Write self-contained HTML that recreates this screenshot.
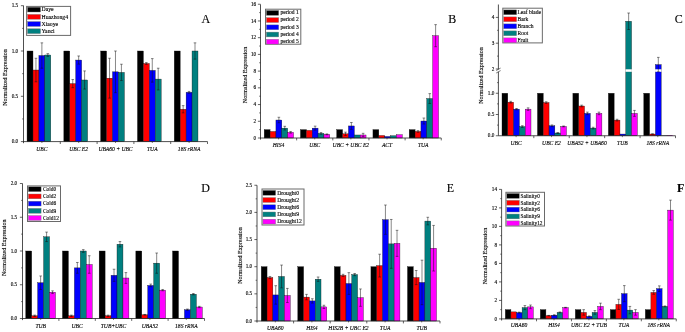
<!DOCTYPE html>
<html><head><meta charset="utf-8"><style>
html,body{margin:0;padding:0;background:#fff;}
body{width:685px;height:332px;overflow:hidden;}
svg{display:block;will-change:transform;filter:blur(0.3px);}
text{font-family:"Liberation Serif",serif;fill:#000;stroke:#000;stroke-width:0.12px;}
.tl{font-size:5.2px;}
.xl{font-size:5.6px;font-style:italic;}
.yl{font-size:6px;}
.lg{font-size:6px;}
.pl{font-size:12px;}
</style></head><body>
<svg width="685" height="332" viewBox="0 0 685 332">
<rect width="685" height="332" fill="#fff"/>
<rect x="27.05" y="51" width="5.93" height="90.6" fill="#000000" stroke="#111" stroke-width="0.35"/>
<rect x="32.98" y="70.03" width="5.93" height="71.57" fill="#ff0000" stroke="#111" stroke-width="0.35"/>
<rect x="38.91" y="55.53" width="5.93" height="86.07" fill="#0000ff" stroke="#111" stroke-width="0.35"/>
<rect x="44.84" y="54.99" width="5.93" height="86.61" fill="#008080" stroke="#111" stroke-width="0.35"/>
<rect x="63.85" y="51" width="5.93" height="90.6" fill="#000000" stroke="#111" stroke-width="0.35"/>
<rect x="69.78" y="83.62" width="5.93" height="57.98" fill="#ff0000" stroke="#111" stroke-width="0.35"/>
<rect x="75.71" y="60.06" width="5.93" height="81.54" fill="#0000ff" stroke="#111" stroke-width="0.35"/>
<rect x="81.64" y="79.99" width="5.93" height="61.61" fill="#008080" stroke="#111" stroke-width="0.35"/>
<rect x="100.65" y="51" width="5.93" height="90.6" fill="#000000" stroke="#111" stroke-width="0.35"/>
<rect x="106.58" y="78.18" width="5.93" height="63.42" fill="#ff0000" stroke="#111" stroke-width="0.35"/>
<rect x="112.51" y="71.84" width="5.93" height="69.76" fill="#0000ff" stroke="#111" stroke-width="0.35"/>
<rect x="118.44" y="72.38" width="5.93" height="69.22" fill="#008080" stroke="#111" stroke-width="0.35"/>
<rect x="137.45" y="51" width="5.93" height="90.6" fill="#000000" stroke="#111" stroke-width="0.35"/>
<rect x="143.38" y="63.5" width="5.93" height="78.1" fill="#ff0000" stroke="#111" stroke-width="0.35"/>
<rect x="149.31" y="70.39" width="5.93" height="71.21" fill="#0000ff" stroke="#111" stroke-width="0.35"/>
<rect x="155.24" y="79.09" width="5.93" height="62.51" fill="#008080" stroke="#111" stroke-width="0.35"/>
<rect x="174.25" y="51" width="5.93" height="90.6" fill="#000000" stroke="#111" stroke-width="0.35"/>
<rect x="180.18" y="109.26" width="5.93" height="32.34" fill="#ff0000" stroke="#111" stroke-width="0.35"/>
<rect x="186.11" y="92.31" width="5.93" height="49.29" fill="#0000ff" stroke="#111" stroke-width="0.35"/>
<rect x="192.04" y="51" width="5.93" height="90.6" fill="#008080" stroke="#111" stroke-width="0.35"/>
<path d="M35.95 58.25V81.8M34.65 58.25H37.25M34.65 81.8H37.25" stroke="#111" stroke-width="0.5" fill="none"/>
<path d="M41.88 42.85V68.21M40.58 42.85H43.17M40.58 68.21H43.17" stroke="#111" stroke-width="0.5" fill="none"/>
<path d="M47.81 53.63V56.35M46.51 53.63H49.11M46.51 56.35H49.11" stroke="#111" stroke-width="0.5" fill="none"/>
<path d="M72.75 79.54V87.69M71.45 79.54H74.05M71.45 87.69H74.05" stroke="#111" stroke-width="0.5" fill="none"/>
<path d="M78.67 55.98V64.14M77.38 55.98H79.97M77.38 64.14H79.97" stroke="#111" stroke-width="0.5" fill="none"/>
<path d="M84.6 70.93V89.05M83.3 70.93H85.9M83.3 89.05H85.9" stroke="#111" stroke-width="0.5" fill="none"/>
<path d="M109.54 58.25V98.11M108.24 58.25H110.84M108.24 98.11H110.84" stroke="#111" stroke-width="0.5" fill="none"/>
<path d="M115.47 51V92.68M114.17 51H116.77M114.17 92.68H116.77" stroke="#111" stroke-width="0.5" fill="none"/>
<path d="M121.41 64.23V80.54M120.11 64.23H122.7M120.11 80.54H122.7" stroke="#111" stroke-width="0.5" fill="none"/>
<path d="M146.34 62.6V64.41M145.04 62.6H147.65M145.04 64.41H147.65" stroke="#111" stroke-width="0.5" fill="none"/>
<path d="M152.28 58.61V82.17M150.97 58.61H153.58M150.97 82.17H153.58" stroke="#111" stroke-width="0.5" fill="none"/>
<path d="M158.2 68.21V89.96M156.9 68.21H159.5M156.9 89.96H159.5" stroke="#111" stroke-width="0.5" fill="none"/>
<path d="M183.15 105.63V112.88M181.84 105.63H184.45M181.84 112.88H184.45" stroke="#111" stroke-width="0.5" fill="none"/>
<path d="M189.08 91.41V93.22M187.78 91.41H190.38M187.78 93.22H190.38" stroke="#111" stroke-width="0.5" fill="none"/>
<path d="M195 42.85V59.15M193.7 42.85H196.31M193.7 59.15H196.31" stroke="#111" stroke-width="0.5" fill="none"/>
<path d="M23.5 5.6V143.2M23.1 141.6H207.5" stroke="#222" stroke-width="0.8" fill="none"/>
<path d="M20.9 141.6H23.5" stroke="#222" stroke-width="0.7"/>
<text x="18.2" y="143.2" class="tl" text-anchor="end">0.0</text>
<path d="M20.9 96.3H23.5" stroke="#222" stroke-width="0.7"/>
<text x="18.2" y="97.9" class="tl" text-anchor="end">0.5</text>
<path d="M20.9 51H23.5" stroke="#222" stroke-width="0.7"/>
<text x="18.2" y="52.6" class="tl" text-anchor="end">1.0</text>
<path d="M20.9 5.7H23.5" stroke="#222" stroke-width="0.7"/>
<text x="18.2" y="7.3" class="tl" text-anchor="end">1.5</text>
<path d="M22.1 118.95H23.5" stroke="#222" stroke-width="0.6"/>
<path d="M22.1 73.65H23.5" stroke="#222" stroke-width="0.6"/>
<path d="M22.1 28.35H23.5" stroke="#222" stroke-width="0.6"/>
<path d="M60.3 141.6V144" stroke="#222" stroke-width="0.7"/>
<path d="M97.1 141.6V144" stroke="#222" stroke-width="0.7"/>
<path d="M133.9 141.6V144" stroke="#222" stroke-width="0.7"/>
<path d="M170.7 141.6V144" stroke="#222" stroke-width="0.7"/>
<path d="M207.5 141.6V144" stroke="#222" stroke-width="0.7"/>
<path d="M41.9 141.6V143" stroke="#222" stroke-width="0.6"/>
<text x="41.9" y="150.6" class="xl" text-anchor="middle">UBC</text>
<path d="M78.7 141.6V143" stroke="#222" stroke-width="0.6"/>
<text x="78.7" y="150.6" class="xl" text-anchor="middle">UBC E2</text>
<path d="M115.5 141.6V143" stroke="#222" stroke-width="0.6"/>
<text x="115.5" y="150.6" class="xl" text-anchor="middle">UBA60 + UBC</text>
<path d="M152.3 141.6V143" stroke="#222" stroke-width="0.6"/>
<text x="152.3" y="150.6" class="xl" text-anchor="middle">TUA</text>
<path d="M189.1 141.6V143" stroke="#222" stroke-width="0.6"/>
<text x="189.1" y="150.6" class="xl" text-anchor="middle">18S rRNA</text>
<text class="yl" text-anchor="middle" transform="translate(7.4 77.5) rotate(-90)">Normalized Expression</text>
<rect x="26.6" y="6.4" width="44" height="29" fill="#fff" stroke="#6a6a6a" stroke-width="1"/>
<rect x="27.5" y="7.2" width="13" height="4.8" fill="#000000" stroke="#777" stroke-width="0.4"/>
<text x="41.5" y="11.4" class="lg" style="font-size:5.75px">Daye</text>
<rect x="27.5" y="14.4" width="13" height="4.8" fill="#ff0000" stroke="#777" stroke-width="0.4"/>
<text x="41.5" y="18.6" class="lg" style="font-size:5.75px">Huazhong4</text>
<rect x="27.5" y="21.6" width="13" height="4.8" fill="#0000ff" stroke="#777" stroke-width="0.4"/>
<text x="41.5" y="25.8" class="lg" style="font-size:5.75px">Xiaoye</text>
<rect x="27.5" y="28.8" width="13" height="4.8" fill="#008080" stroke="#777" stroke-width="0.4"/>
<text x="41.5" y="33" class="lg" style="font-size:5.75px">Yanci</text>
<text x="201.6" y="22.7" class="pl">A</text>
<rect x="264.2" y="129.64" width="5.87" height="8.36" fill="#000000" stroke="#111" stroke-width="0.35"/>
<rect x="270.07" y="131.48" width="5.87" height="6.52" fill="#ff0000" stroke="#111" stroke-width="0.35"/>
<rect x="275.94" y="120.03" width="5.87" height="17.97" fill="#0000ff" stroke="#111" stroke-width="0.35"/>
<rect x="281.81" y="128.14" width="5.87" height="9.86" fill="#008080" stroke="#111" stroke-width="0.35"/>
<rect x="287.68" y="132.32" width="5.87" height="5.68" fill="#ff00ff" stroke="#111" stroke-width="0.35"/>
<rect x="300.45" y="129.64" width="5.87" height="8.36" fill="#000000" stroke="#111" stroke-width="0.35"/>
<rect x="306.32" y="130.39" width="5.87" height="7.61" fill="#ff0000" stroke="#111" stroke-width="0.35"/>
<rect x="312.19" y="128.14" width="5.87" height="9.86" fill="#0000ff" stroke="#111" stroke-width="0.35"/>
<rect x="318.06" y="133.4" width="5.87" height="4.6" fill="#008080" stroke="#111" stroke-width="0.35"/>
<rect x="323.93" y="134.32" width="5.87" height="3.68" fill="#ff00ff" stroke="#111" stroke-width="0.35"/>
<rect x="336.7" y="129.64" width="5.87" height="8.36" fill="#000000" stroke="#111" stroke-width="0.35"/>
<rect x="342.57" y="133.82" width="5.87" height="4.18" fill="#ff0000" stroke="#111" stroke-width="0.35"/>
<rect x="348.44" y="125.96" width="5.87" height="12.04" fill="#0000ff" stroke="#111" stroke-width="0.35"/>
<rect x="354.31" y="134.99" width="5.87" height="3.01" fill="#008080" stroke="#111" stroke-width="0.35"/>
<rect x="360.18" y="134.99" width="5.87" height="3.01" fill="#ff00ff" stroke="#111" stroke-width="0.35"/>
<rect x="372.95" y="129.64" width="5.87" height="8.36" fill="#000000" stroke="#111" stroke-width="0.35"/>
<rect x="378.82" y="135.49" width="5.87" height="2.51" fill="#ff0000" stroke="#111" stroke-width="0.35"/>
<rect x="384.69" y="136.5" width="5.87" height="1.5" fill="#0000ff" stroke="#111" stroke-width="0.35"/>
<rect x="390.56" y="135.74" width="5.87" height="2.26" fill="#008080" stroke="#111" stroke-width="0.35"/>
<rect x="396.43" y="134.74" width="5.87" height="3.26" fill="#ff00ff" stroke="#111" stroke-width="0.35"/>
<rect x="409.2" y="129.64" width="5.87" height="8.36" fill="#000000" stroke="#111" stroke-width="0.35"/>
<rect x="415.07" y="131.48" width="5.87" height="6.52" fill="#ff0000" stroke="#111" stroke-width="0.35"/>
<rect x="420.94" y="121.03" width="5.87" height="16.97" fill="#0000ff" stroke="#111" stroke-width="0.35"/>
<rect x="426.81" y="98.54" width="5.87" height="39.46" fill="#008080" stroke="#111" stroke-width="0.35"/>
<rect x="432.68" y="35.67" width="5.87" height="102.33" fill="#ff00ff" stroke="#111" stroke-width="0.35"/>
<path d="M278.88 117.27V122.78M277.57 117.27H280.18M277.57 122.78H280.18" stroke="#111" stroke-width="0.5" fill="none"/>
<path d="M284.75 126.3V129.97M283.44 126.3H286.05M283.44 129.97H286.05" stroke="#111" stroke-width="0.5" fill="none"/>
<path d="M290.62 131.48V133.15M289.31 131.48H291.92M289.31 133.15H291.92" stroke="#111" stroke-width="0.5" fill="none"/>
<path d="M315.12 126.13V130.14M313.82 126.13H316.43M313.82 130.14H316.43" stroke="#111" stroke-width="0.5" fill="none"/>
<path d="M321 132.57V134.24M319.69 132.57H322.3M319.69 134.24H322.3" stroke="#111" stroke-width="0.5" fill="none"/>
<path d="M326.87 133.9V134.74M325.56 133.9H328.17M325.56 134.74H328.17" stroke="#111" stroke-width="0.5" fill="none"/>
<path d="M345.5 132.15V135.49M344.2 132.15H346.81M344.2 135.49H346.81" stroke="#111" stroke-width="0.5" fill="none"/>
<path d="M351.38 122.53V129.39M350.07 122.53H352.68M350.07 129.39H352.68" stroke="#111" stroke-width="0.5" fill="none"/>
<path d="M363.12 133.32V136.66M361.81 133.32H364.42M361.81 136.66H364.42" stroke="#111" stroke-width="0.5" fill="none"/>
<path d="M418 130.64V132.32M416.7 130.64H419.31M416.7 132.32H419.31" stroke="#111" stroke-width="0.5" fill="none"/>
<path d="M423.88 118.02V124.04M422.57 118.02H425.18M422.57 124.04H425.18" stroke="#111" stroke-width="0.5" fill="none"/>
<path d="M429.75 93.61V103.47M428.44 93.61H431.05M428.44 103.47H431.05" stroke="#111" stroke-width="0.5" fill="none"/>
<path d="M435.62 24.64V46.71M434.31 24.64H436.92M434.31 46.71H436.92" stroke="#111" stroke-width="0.5" fill="none"/>
<path d="M260.5 4.4V139.6M260.1 138H441.25" stroke="#222" stroke-width="0.8" fill="none"/>
<path d="M257.9 138H260.5" stroke="#222" stroke-width="0.7"/>
<text x="256.2" y="139.6" class="tl" text-anchor="end">0</text>
<path d="M257.9 121.28H260.5" stroke="#222" stroke-width="0.7"/>
<text x="256.2" y="122.88" class="tl" text-anchor="end">2</text>
<path d="M257.9 104.56H260.5" stroke="#222" stroke-width="0.7"/>
<text x="256.2" y="106.16" class="tl" text-anchor="end">4</text>
<path d="M257.9 87.84H260.5" stroke="#222" stroke-width="0.7"/>
<text x="256.2" y="89.44" class="tl" text-anchor="end">6</text>
<path d="M257.9 71.12H260.5" stroke="#222" stroke-width="0.7"/>
<text x="256.2" y="72.72" class="tl" text-anchor="end">8</text>
<path d="M257.9 54.4H260.5" stroke="#222" stroke-width="0.7"/>
<text x="256.2" y="56" class="tl" text-anchor="end">10</text>
<path d="M257.9 37.68H260.5" stroke="#222" stroke-width="0.7"/>
<text x="256.2" y="39.28" class="tl" text-anchor="end">12</text>
<path d="M257.9 20.96H260.5" stroke="#222" stroke-width="0.7"/>
<text x="256.2" y="22.56" class="tl" text-anchor="end">14</text>
<path d="M257.9 4.24H260.5" stroke="#222" stroke-width="0.7"/>
<text x="256.2" y="5.84" class="tl" text-anchor="end">16</text>
<path d="M259.1 129.64H260.5" stroke="#222" stroke-width="0.6"/>
<path d="M259.1 112.92H260.5" stroke="#222" stroke-width="0.6"/>
<path d="M259.1 96.2H260.5" stroke="#222" stroke-width="0.6"/>
<path d="M259.1 79.48H260.5" stroke="#222" stroke-width="0.6"/>
<path d="M259.1 62.76H260.5" stroke="#222" stroke-width="0.6"/>
<path d="M259.1 46.04H260.5" stroke="#222" stroke-width="0.6"/>
<path d="M259.1 29.32H260.5" stroke="#222" stroke-width="0.6"/>
<path d="M259.1 12.6H260.5" stroke="#222" stroke-width="0.6"/>
<path d="M296.65 138V140.4" stroke="#222" stroke-width="0.7"/>
<path d="M332.8 138V140.4" stroke="#222" stroke-width="0.7"/>
<path d="M368.95 138V140.4" stroke="#222" stroke-width="0.7"/>
<path d="M405.1 138V140.4" stroke="#222" stroke-width="0.7"/>
<path d="M441.25 138V140.4" stroke="#222" stroke-width="0.7"/>
<path d="M278.57 138V139.4" stroke="#222" stroke-width="0.6"/>
<text x="278.57" y="146.8" class="xl" text-anchor="middle">HIS4</text>
<path d="M314.73 138V139.4" stroke="#222" stroke-width="0.6"/>
<text x="314.73" y="146.8" class="xl" text-anchor="middle">UBC</text>
<path d="M350.88 138V139.4" stroke="#222" stroke-width="0.6"/>
<text x="350.88" y="146.8" class="xl" text-anchor="middle">UBC + UBC E2</text>
<path d="M387.02 138V139.4" stroke="#222" stroke-width="0.6"/>
<text x="387.02" y="146.8" class="xl" text-anchor="middle">ACT</text>
<path d="M423.17 138V139.4" stroke="#222" stroke-width="0.6"/>
<text x="423.17" y="146.8" class="xl" text-anchor="middle">TUA</text>
<text class="yl" text-anchor="middle" transform="translate(246.6 74.9) rotate(-90)">Normalized Expression</text>
<rect x="265.5" y="9.2" width="35.3" height="35" fill="#fff" stroke="#6a6a6a" stroke-width="1"/>
<rect x="266.4" y="10.5" width="12.3" height="4.8" fill="#000000" stroke="#777" stroke-width="0.4"/>
<text x="280.5" y="14.1" class="lg" style="font-size:5.5px">period 1</text>
<rect x="266.4" y="17.7" width="12.3" height="4.8" fill="#ff0000" stroke="#777" stroke-width="0.4"/>
<text x="280.5" y="21.3" class="lg" style="font-size:5.5px">period 2</text>
<rect x="266.4" y="24.9" width="12.3" height="4.8" fill="#0000ff" stroke="#777" stroke-width="0.4"/>
<text x="280.5" y="28.5" class="lg" style="font-size:5.5px">period 3</text>
<rect x="266.4" y="32.1" width="12.3" height="4.8" fill="#008080" stroke="#777" stroke-width="0.4"/>
<text x="280.5" y="35.7" class="lg" style="font-size:5.5px">period 4</text>
<rect x="266.4" y="39.3" width="12.3" height="4.8" fill="#ff00ff" stroke="#777" stroke-width="0.4"/>
<text x="280.5" y="42.9" class="lg" style="font-size:5.5px">period 5</text>
<text x="448.3" y="22.7" class="pl">B</text>
<rect x="502" y="93.25" width="5.8" height="42.5" fill="#000000" stroke="#111" stroke-width="0.35"/>
<rect x="507.8" y="102.17" width="5.8" height="33.58" fill="#ff0000" stroke="#111" stroke-width="0.35"/>
<rect x="513.6" y="109.14" width="5.8" height="26.61" fill="#0000ff" stroke="#111" stroke-width="0.35"/>
<rect x="519.4" y="126.57" width="5.8" height="9.18" fill="#008080" stroke="#111" stroke-width="0.35"/>
<rect x="525.2" y="109.14" width="5.8" height="26.61" fill="#ff00ff" stroke="#111" stroke-width="0.35"/>
<rect x="537.45" y="93.25" width="5.8" height="42.5" fill="#000000" stroke="#111" stroke-width="0.35"/>
<rect x="543.25" y="102.6" width="5.8" height="33.15" fill="#ff0000" stroke="#111" stroke-width="0.35"/>
<rect x="549.05" y="125.81" width="5.8" height="9.94" fill="#0000ff" stroke="#111" stroke-width="0.35"/>
<rect x="554.85" y="133.03" width="5.8" height="2.72" fill="#008080" stroke="#111" stroke-width="0.35"/>
<rect x="560.65" y="126.4" width="5.8" height="9.35" fill="#ff00ff" stroke="#111" stroke-width="0.35"/>
<rect x="572.9" y="93.25" width="5.8" height="42.5" fill="#000000" stroke="#111" stroke-width="0.35"/>
<rect x="578.7" y="106" width="5.8" height="29.75" fill="#ff0000" stroke="#111" stroke-width="0.35"/>
<rect x="584.5" y="113.39" width="5.8" height="22.36" fill="#0000ff" stroke="#111" stroke-width="0.35"/>
<rect x="590.3" y="128.1" width="5.8" height="7.65" fill="#008080" stroke="#111" stroke-width="0.35"/>
<rect x="596.1" y="113.39" width="5.8" height="22.36" fill="#ff00ff" stroke="#111" stroke-width="0.35"/>
<rect x="608.35" y="93.25" width="5.8" height="42.5" fill="#000000" stroke="#111" stroke-width="0.35"/>
<rect x="614.15" y="120.11" width="5.8" height="15.64" fill="#ff0000" stroke="#111" stroke-width="0.35"/>
<rect x="619.95" y="134.05" width="5.8" height="1.7" fill="#0000ff" stroke="#111" stroke-width="0.35"/>
<rect x="625.75" y="21.27" width="5.8" height="114.48" fill="#008080" stroke="#111" stroke-width="0.35"/>
<rect x="625.45" y="69.3" width="6.4" height="2.5" fill="#fff"/>
<rect x="631.55" y="113.39" width="5.8" height="22.36" fill="#ff00ff" stroke="#111" stroke-width="0.35"/>
<rect x="643.8" y="93.25" width="5.8" height="42.5" fill="#000000" stroke="#111" stroke-width="0.35"/>
<rect x="649.6" y="134.05" width="5.8" height="1.7" fill="#ff0000" stroke="#111" stroke-width="0.35"/>
<rect x="655.4" y="64.61" width="5.8" height="71.14" fill="#0000ff" stroke="#111" stroke-width="0.35"/>
<rect x="655.1" y="69.3" width="6.4" height="2.5" fill="#fff"/>
<rect x="661.2" y="135.54" width="5.8" height="0.21" fill="#008080" stroke="#111" stroke-width="0.35"/>
<rect x="667" y="135.24" width="5.8" height="0.51" fill="#ff00ff" stroke="#111" stroke-width="0.35"/>
<path d="M510.7 101.32V103.03M509.4 101.32H512M509.4 103.03H512" stroke="#111" stroke-width="0.5" fill="none"/>
<path d="M516.5 108.51V109.78M515.2 108.51H517.8M515.2 109.78H517.8" stroke="#111" stroke-width="0.5" fill="none"/>
<path d="M522.3 125.72V127.42M521 125.72H523.6M521 127.42H523.6" stroke="#111" stroke-width="0.5" fill="none"/>
<path d="M528.1 107.87V110.42M526.8 107.87H529.4M526.8 110.42H529.4" stroke="#111" stroke-width="0.5" fill="none"/>
<path d="M546.15 101.75V103.45M544.85 101.75H547.45M544.85 103.45H547.45" stroke="#111" stroke-width="0.5" fill="none"/>
<path d="M551.95 124.95V126.66M550.65 124.95H553.25M550.65 126.66H553.25" stroke="#111" stroke-width="0.5" fill="none"/>
<path d="M557.75 132.6V133.46M556.45 132.6H559.05M556.45 133.46H559.05" stroke="#111" stroke-width="0.5" fill="none"/>
<path d="M563.55 125.97V126.83M562.25 125.97H564.85M562.25 126.83H564.85" stroke="#111" stroke-width="0.5" fill="none"/>
<path d="M581.6 105.15V106.85M580.3 105.15H582.9M580.3 106.85H582.9" stroke="#111" stroke-width="0.5" fill="none"/>
<path d="M587.4 112.12V114.67M586.1 112.12H588.7M586.1 114.67H588.7" stroke="#111" stroke-width="0.5" fill="none"/>
<path d="M593.2 127.25V128.95M591.9 127.25H594.5M591.9 128.95H594.5" stroke="#111" stroke-width="0.5" fill="none"/>
<path d="M599 112.12V114.67M597.7 112.12H600.3M597.7 114.67H600.3" stroke="#111" stroke-width="0.5" fill="none"/>
<path d="M617.05 119.26V120.96M615.75 119.26H618.35M615.75 120.96H618.35" stroke="#111" stroke-width="0.5" fill="none"/>
<path d="M628.65 13.01V29.53M627.35 13.01H629.95M627.35 29.53H629.95" stroke="#111" stroke-width="0.5" fill="none"/>
<path d="M634.45 110.42V116.37M633.15 110.42H635.75M633.15 116.37H635.75" stroke="#111" stroke-width="0.5" fill="none"/>
<path d="M652.5 133.84V134.26M651.2 133.84H653.8M651.2 134.26H653.8" stroke="#111" stroke-width="0.5" fill="none"/>
<path d="M658.3 57.39V71.84M657 57.39H659.6M657 71.84H659.6" stroke="#111" stroke-width="0.5" fill="none"/>
<path d="M498.4 4.5V69.3M498.4 71.8V135.75H675.5" stroke="#222" stroke-width="0.8" fill="none"/>
<path d="M496.2 70.5L500.6 68.1" stroke="#222" stroke-width="0.6"/>
<path d="M496.2 73L500.6 70.6" stroke="#222" stroke-width="0.6"/>
<path d="M495.8 135.75H498.4" stroke="#222" stroke-width="0.7"/>
<text x="494.3" y="137.35" class="tl" text-anchor="end">0.0</text>
<path d="M495.8 114.5H498.4" stroke="#222" stroke-width="0.7"/>
<text x="494.3" y="116.1" class="tl" text-anchor="end">0.5</text>
<path d="M495.8 93.25H498.4" stroke="#222" stroke-width="0.7"/>
<text x="494.3" y="94.85" class="tl" text-anchor="end">1.0</text>
<path d="M495.8 69H498.4" stroke="#222" stroke-width="0.7"/>
<text x="494.3" y="70.6" class="tl" text-anchor="end">2</text>
<path d="M495.8 43.2H498.4" stroke="#222" stroke-width="0.7"/>
<text x="494.3" y="44.8" class="tl" text-anchor="end">3</text>
<path d="M495.8 17.4H498.4" stroke="#222" stroke-width="0.7"/>
<text x="494.3" y="19" class="tl" text-anchor="end">4</text>
<path d="M497 125.12H498.4" stroke="#222" stroke-width="0.6"/>
<path d="M497 103.88H498.4" stroke="#222" stroke-width="0.6"/>
<path d="M497 82.62H498.4" stroke="#222" stroke-width="0.6"/>
<path d="M497 56.1H498.4" stroke="#222" stroke-width="0.6"/>
<path d="M497 30.3H498.4" stroke="#222" stroke-width="0.6"/>
<path d="M533.82 135.75V138.15" stroke="#222" stroke-width="0.7"/>
<path d="M569.24 135.75V138.15" stroke="#222" stroke-width="0.7"/>
<path d="M604.66 135.75V138.15" stroke="#222" stroke-width="0.7"/>
<path d="M640.08 135.75V138.15" stroke="#222" stroke-width="0.7"/>
<path d="M675.5 135.75V138.15" stroke="#222" stroke-width="0.7"/>
<path d="M516.11 135.75V137.15" stroke="#222" stroke-width="0.6"/>
<text x="516.11" y="145.2" class="xl" text-anchor="middle">UBC</text>
<path d="M551.53 135.75V137.15" stroke="#222" stroke-width="0.6"/>
<text x="551.53" y="145.2" class="xl" text-anchor="middle">UBC E2</text>
<path d="M586.95 135.75V137.15" stroke="#222" stroke-width="0.6"/>
<text x="586.95" y="145.2" class="xl" text-anchor="middle">UBA52 + UBA60</text>
<path d="M622.37 135.75V137.15" stroke="#222" stroke-width="0.6"/>
<text x="622.37" y="145.2" class="xl" text-anchor="middle">TUB</text>
<path d="M657.79 135.75V137.15" stroke="#222" stroke-width="0.6"/>
<text x="657.79" y="145.2" class="xl" text-anchor="middle">18S rRNA</text>
<text class="yl" text-anchor="middle" transform="translate(483.3 75.6) rotate(-90)">Normalized Expression</text>
<rect x="502.8" y="8.2" width="39.55" height="34.7" fill="#fff" stroke="#6a6a6a" stroke-width="1"/>
<rect x="503.7" y="9.9" width="12.9" height="4.8" fill="#000000" stroke="#777" stroke-width="0.4"/>
<text x="517.5" y="14.1" class="lg" style="font-size:5.5px">Leaf blade</text>
<rect x="503.7" y="16.9" width="12.9" height="4.8" fill="#ff0000" stroke="#777" stroke-width="0.4"/>
<text x="517.5" y="21.1" class="lg" style="font-size:5.5px">Bark</text>
<rect x="503.7" y="23.9" width="12.9" height="4.8" fill="#0000ff" stroke="#777" stroke-width="0.4"/>
<text x="517.5" y="28.1" class="lg" style="font-size:5.5px">Branch</text>
<rect x="503.7" y="30.9" width="12.9" height="4.8" fill="#008080" stroke="#777" stroke-width="0.4"/>
<text x="517.5" y="35.1" class="lg" style="font-size:5.5px">Root</text>
<rect x="503.7" y="37.9" width="12.9" height="4.8" fill="#ff00ff" stroke="#777" stroke-width="0.4"/>
<text x="517.5" y="42.1" class="lg" style="font-size:5.5px">Fruit</text>
<text x="674.8" y="22.7" class="pl">C</text>
<rect x="25.75" y="251" width="5.95" height="67.5" fill="#000000" stroke="#111" stroke-width="0.35"/>
<rect x="31.7" y="315.8" width="5.95" height="2.7" fill="#ff0000" stroke="#111" stroke-width="0.35"/>
<rect x="37.65" y="282.73" width="5.95" height="35.77" fill="#0000ff" stroke="#111" stroke-width="0.35"/>
<rect x="43.6" y="236.82" width="5.95" height="81.68" fill="#008080" stroke="#111" stroke-width="0.35"/>
<rect x="49.55" y="292.18" width="5.95" height="26.32" fill="#ff00ff" stroke="#111" stroke-width="0.35"/>
<rect x="62.45" y="251" width="5.95" height="67.5" fill="#000000" stroke="#111" stroke-width="0.35"/>
<rect x="68.4" y="315.8" width="5.95" height="2.7" fill="#ff0000" stroke="#111" stroke-width="0.35"/>
<rect x="74.35" y="267.88" width="5.95" height="50.62" fill="#0000ff" stroke="#111" stroke-width="0.35"/>
<rect x="80.3" y="251" width="5.95" height="67.5" fill="#008080" stroke="#111" stroke-width="0.35"/>
<rect x="86.25" y="264.5" width="5.95" height="54" fill="#ff00ff" stroke="#111" stroke-width="0.35"/>
<rect x="99.15" y="251" width="5.95" height="67.5" fill="#000000" stroke="#111" stroke-width="0.35"/>
<rect x="105.1" y="315.8" width="5.95" height="2.7" fill="#ff0000" stroke="#111" stroke-width="0.35"/>
<rect x="111.05" y="275.3" width="5.95" height="43.2" fill="#0000ff" stroke="#111" stroke-width="0.35"/>
<rect x="117" y="244.25" width="5.95" height="74.25" fill="#008080" stroke="#111" stroke-width="0.35"/>
<rect x="122.95" y="278" width="5.95" height="40.5" fill="#ff00ff" stroke="#111" stroke-width="0.35"/>
<rect x="135.85" y="251" width="5.95" height="67.5" fill="#000000" stroke="#111" stroke-width="0.35"/>
<rect x="141.8" y="314.79" width="5.95" height="3.71" fill="#ff0000" stroke="#111" stroke-width="0.35"/>
<rect x="147.75" y="285.43" width="5.95" height="33.07" fill="#0000ff" stroke="#111" stroke-width="0.35"/>
<rect x="153.7" y="263.15" width="5.95" height="55.35" fill="#008080" stroke="#111" stroke-width="0.35"/>
<rect x="159.65" y="290.15" width="5.95" height="28.35" fill="#ff00ff" stroke="#111" stroke-width="0.35"/>
<rect x="172.55" y="251" width="5.95" height="67.5" fill="#000000" stroke="#111" stroke-width="0.35"/>
<rect x="178.5" y="318.16" width="5.95" height="0.34" fill="#ff0000" stroke="#111" stroke-width="0.35"/>
<rect x="184.45" y="309.73" width="5.95" height="8.77" fill="#0000ff" stroke="#111" stroke-width="0.35"/>
<rect x="190.4" y="294.2" width="5.95" height="24.3" fill="#008080" stroke="#111" stroke-width="0.35"/>
<rect x="196.35" y="307.02" width="5.95" height="11.48" fill="#ff00ff" stroke="#111" stroke-width="0.35"/>
<path d="M34.67 315.12V316.48M33.38 315.12H35.97M33.38 316.48H35.97" stroke="#111" stroke-width="0.5" fill="none"/>
<path d="M40.62 275.98V289.48M39.33 275.98H41.92M39.33 289.48H41.92" stroke="#111" stroke-width="0.5" fill="none"/>
<path d="M46.58 232.1V241.55M45.28 232.1H47.88M45.28 241.55H47.88" stroke="#111" stroke-width="0.5" fill="none"/>
<path d="M52.52 290.82V293.52M51.23 290.82H53.82M51.23 293.52H53.82" stroke="#111" stroke-width="0.5" fill="none"/>
<path d="M71.38 315.12V316.48M70.08 315.12H72.67M70.08 316.48H72.67" stroke="#111" stroke-width="0.5" fill="none"/>
<path d="M77.33 262.48V273.27M76.03 262.48H78.62M76.03 273.27H78.62" stroke="#111" stroke-width="0.5" fill="none"/>
<path d="M83.28 249.65V252.35M81.98 249.65H84.58M81.98 252.35H84.58" stroke="#111" stroke-width="0.5" fill="none"/>
<path d="M89.22 255.72V273.27M87.92 255.72H90.52M87.92 273.27H90.52" stroke="#111" stroke-width="0.5" fill="none"/>
<path d="M108.08 315.12V316.48M106.78 315.12H109.38M106.78 316.48H109.38" stroke="#111" stroke-width="0.5" fill="none"/>
<path d="M114.03 269.23V281.38M112.73 269.23H115.33M112.73 281.38H115.33" stroke="#111" stroke-width="0.5" fill="none"/>
<path d="M119.97 241.55V246.95M118.67 241.55H121.27M118.67 246.95H121.27" stroke="#111" stroke-width="0.5" fill="none"/>
<path d="M125.92 272.6V283.4M124.62 272.6H127.22M124.62 283.4H127.22" stroke="#111" stroke-width="0.5" fill="none"/>
<path d="M144.78 314.45V315.12M143.47 314.45H146.08M143.47 315.12H146.08" stroke="#111" stroke-width="0.5" fill="none"/>
<path d="M150.73 284.07V286.77M149.43 284.07H152.03M149.43 286.77H152.03" stroke="#111" stroke-width="0.5" fill="none"/>
<path d="M156.68 253.03V273.27M155.38 253.03H157.98M155.38 273.27H157.98" stroke="#111" stroke-width="0.5" fill="none"/>
<path d="M162.63 289.48V290.82M161.33 289.48H163.93M161.33 290.82H163.93" stroke="#111" stroke-width="0.5" fill="none"/>
<path d="M187.43 309.05V310.4M186.12 309.05H188.73M186.12 310.4H188.73" stroke="#111" stroke-width="0.5" fill="none"/>
<path d="M193.38 293.52V294.88M192.07 293.52H194.68M192.07 294.88H194.68" stroke="#111" stroke-width="0.5" fill="none"/>
<path d="M199.33 306.35V307.7M198.03 306.35H200.63M198.03 307.7H200.63" stroke="#111" stroke-width="0.5" fill="none"/>
<path d="M22.5 183.5V320.1M22.1 318.5H204.5" stroke="#222" stroke-width="0.8" fill="none"/>
<path d="M19.9 318.5H22.5" stroke="#222" stroke-width="0.7"/>
<text x="17.2" y="320.1" class="tl" text-anchor="end">0.0</text>
<path d="M19.9 284.75H22.5" stroke="#222" stroke-width="0.7"/>
<text x="17.2" y="286.35" class="tl" text-anchor="end">0.5</text>
<path d="M19.9 251H22.5" stroke="#222" stroke-width="0.7"/>
<text x="17.2" y="252.6" class="tl" text-anchor="end">1.0</text>
<path d="M19.9 217.25H22.5" stroke="#222" stroke-width="0.7"/>
<text x="17.2" y="218.85" class="tl" text-anchor="end">1.5</text>
<path d="M19.9 183.5H22.5" stroke="#222" stroke-width="0.7"/>
<text x="17.2" y="185.1" class="tl" text-anchor="end">2.0</text>
<path d="M21.1 301.62H22.5" stroke="#222" stroke-width="0.6"/>
<path d="M21.1 267.88H22.5" stroke="#222" stroke-width="0.6"/>
<path d="M21.1 234.12H22.5" stroke="#222" stroke-width="0.6"/>
<path d="M21.1 200.38H22.5" stroke="#222" stroke-width="0.6"/>
<path d="M58.9 318.5V320.9" stroke="#222" stroke-width="0.7"/>
<path d="M95.3 318.5V320.9" stroke="#222" stroke-width="0.7"/>
<path d="M131.7 318.5V320.9" stroke="#222" stroke-width="0.7"/>
<path d="M168.1 318.5V320.9" stroke="#222" stroke-width="0.7"/>
<path d="M204.5 318.5V320.9" stroke="#222" stroke-width="0.7"/>
<path d="M40.7 318.5V319.9" stroke="#222" stroke-width="0.6"/>
<text x="40.7" y="327.6" class="xl" text-anchor="middle">TUB</text>
<path d="M77.1 318.5V319.9" stroke="#222" stroke-width="0.6"/>
<text x="77.1" y="327.6" class="xl" text-anchor="middle">UBC</text>
<path d="M113.5 318.5V319.9" stroke="#222" stroke-width="0.6"/>
<text x="113.5" y="327.6" class="xl" text-anchor="middle">TUB+UBC</text>
<path d="M149.9 318.5V319.9" stroke="#222" stroke-width="0.6"/>
<text x="149.9" y="327.6" class="xl" text-anchor="middle">UBA52</text>
<path d="M186.3 318.5V319.9" stroke="#222" stroke-width="0.6"/>
<text x="186.3" y="327.6" class="xl" text-anchor="middle">18S rRNA</text>
<text class="yl" text-anchor="middle" transform="translate(5.5 247.8) rotate(-90)">Normalized Expression</text>
<rect x="27.5" y="185.9" width="33" height="35.6" fill="#fff" stroke="#6a6a6a" stroke-width="1"/>
<rect x="28.4" y="186.8" width="12.7" height="4.8" fill="#000000" stroke="#777" stroke-width="0.4"/>
<text x="43" y="191" class="lg" style="font-size:5.4px">Cold0</text>
<rect x="28.4" y="194" width="12.7" height="4.8" fill="#ff0000" stroke="#777" stroke-width="0.4"/>
<text x="43" y="198.2" class="lg" style="font-size:5.4px">Cold2</text>
<rect x="28.4" y="201.2" width="12.7" height="4.8" fill="#0000ff" stroke="#777" stroke-width="0.4"/>
<text x="43" y="205.4" class="lg" style="font-size:5.4px">Cold6</text>
<rect x="28.4" y="208.4" width="12.7" height="4.8" fill="#008080" stroke="#777" stroke-width="0.4"/>
<text x="43" y="212.6" class="lg" style="font-size:5.4px">Cold9</text>
<rect x="28.4" y="215.6" width="12.7" height="4.8" fill="#ff00ff" stroke="#777" stroke-width="0.4"/>
<text x="43" y="219.8" class="lg" style="font-size:5.4px">Cold12</text>
<text x="201.3" y="191.9" class="pl">D</text>
<rect x="261.25" y="266.7" width="5.8" height="54.3" fill="#000000" stroke="#111" stroke-width="0.35"/>
<rect x="267.05" y="277.56" width="5.8" height="43.44" fill="#ff0000" stroke="#111" stroke-width="0.35"/>
<rect x="272.85" y="294.94" width="5.8" height="26.06" fill="#0000ff" stroke="#111" stroke-width="0.35"/>
<rect x="278.65" y="276.47" width="5.8" height="44.53" fill="#008080" stroke="#111" stroke-width="0.35"/>
<rect x="284.45" y="295.48" width="5.8" height="25.52" fill="#ff00ff" stroke="#111" stroke-width="0.35"/>
<rect x="297.81" y="266.7" width="5.8" height="54.3" fill="#000000" stroke="#111" stroke-width="0.35"/>
<rect x="303.61" y="297.11" width="5.8" height="23.89" fill="#ff0000" stroke="#111" stroke-width="0.35"/>
<rect x="309.41" y="300.91" width="5.8" height="20.09" fill="#0000ff" stroke="#111" stroke-width="0.35"/>
<rect x="315.21" y="279.19" width="5.8" height="41.81" fill="#008080" stroke="#111" stroke-width="0.35"/>
<rect x="321.01" y="306.88" width="5.8" height="14.12" fill="#ff00ff" stroke="#111" stroke-width="0.35"/>
<rect x="334.37" y="266.7" width="5.8" height="54.3" fill="#000000" stroke="#111" stroke-width="0.35"/>
<rect x="340.17" y="275.39" width="5.8" height="45.61" fill="#ff0000" stroke="#111" stroke-width="0.35"/>
<rect x="345.97" y="283.53" width="5.8" height="37.47" fill="#0000ff" stroke="#111" stroke-width="0.35"/>
<rect x="351.77" y="274.57" width="5.8" height="46.43" fill="#008080" stroke="#111" stroke-width="0.35"/>
<rect x="357.57" y="297.65" width="5.8" height="23.35" fill="#ff00ff" stroke="#111" stroke-width="0.35"/>
<rect x="370.93" y="266.7" width="5.8" height="54.3" fill="#000000" stroke="#111" stroke-width="0.35"/>
<rect x="376.73" y="265.61" width="5.8" height="55.39" fill="#ff0000" stroke="#111" stroke-width="0.35"/>
<rect x="382.53" y="219.68" width="5.8" height="101.32" fill="#0000ff" stroke="#111" stroke-width="0.35"/>
<rect x="388.33" y="243.89" width="5.8" height="77.11" fill="#008080" stroke="#111" stroke-width="0.35"/>
<rect x="394.13" y="243.35" width="5.8" height="77.65" fill="#ff00ff" stroke="#111" stroke-width="0.35"/>
<rect x="407.49" y="266.7" width="5.8" height="54.3" fill="#000000" stroke="#111" stroke-width="0.35"/>
<rect x="413.29" y="277.56" width="5.8" height="43.44" fill="#ff0000" stroke="#111" stroke-width="0.35"/>
<rect x="419.09" y="282.45" width="5.8" height="38.55" fill="#0000ff" stroke="#111" stroke-width="0.35"/>
<rect x="424.89" y="221.09" width="5.8" height="99.91" fill="#008080" stroke="#111" stroke-width="0.35"/>
<rect x="430.69" y="248.24" width="5.8" height="72.76" fill="#ff00ff" stroke="#111" stroke-width="0.35"/>
<path d="M269.95 276.47V278.65M268.65 276.47H271.25M268.65 278.65H271.25" stroke="#111" stroke-width="0.5" fill="none"/>
<path d="M275.75 285.7V304.17M274.45 285.7H277.05M274.45 304.17H277.05" stroke="#111" stroke-width="0.5" fill="none"/>
<path d="M281.55 265.07V287.88M280.25 265.07H282.85M280.25 287.88H282.85" stroke="#111" stroke-width="0.5" fill="none"/>
<path d="M287.35 288.42V302.54M286.05 288.42H288.65M286.05 302.54H288.65" stroke="#111" stroke-width="0.5" fill="none"/>
<path d="M306.51 294.39V299.82M305.21 294.39H307.81M305.21 299.82H307.81" stroke="#111" stroke-width="0.5" fill="none"/>
<path d="M312.31 298.74V303.08M311.01 298.74H313.61M311.01 303.08H313.61" stroke="#111" stroke-width="0.5" fill="none"/>
<path d="M318.11 277.02V281.36M316.81 277.02H319.41M316.81 281.36H319.41" stroke="#111" stroke-width="0.5" fill="none"/>
<path d="M323.91 305.25V308.51M322.61 305.25H325.21M322.61 308.51H325.21" stroke="#111" stroke-width="0.5" fill="none"/>
<path d="M343.07 274.3V276.47M341.77 274.3H344.37M341.77 276.47H344.37" stroke="#111" stroke-width="0.5" fill="none"/>
<path d="M348.87 272.67V294.39M347.57 272.67H350.17M347.57 294.39H350.17" stroke="#111" stroke-width="0.5" fill="none"/>
<path d="M354.67 273.49V275.66M353.37 273.49H355.97M353.37 275.66H355.97" stroke="#111" stroke-width="0.5" fill="none"/>
<path d="M360.47 288.96V306.34M359.17 288.96H361.77M359.17 306.34H361.77" stroke="#111" stroke-width="0.5" fill="none"/>
<path d="M379.63 254.21V277.02M378.33 254.21H380.93M378.33 277.02H380.93" stroke="#111" stroke-width="0.5" fill="none"/>
<path d="M385.43 205.02V234.34M384.13 205.02H386.73M384.13 234.34H386.73" stroke="#111" stroke-width="0.5" fill="none"/>
<path d="M391.23 219.46V268.33M389.93 219.46H392.53M389.93 268.33H392.53" stroke="#111" stroke-width="0.5" fill="none"/>
<path d="M397.03 230.32V256.38M395.73 230.32H398.33M395.73 256.38H398.33" stroke="#111" stroke-width="0.5" fill="none"/>
<path d="M416.19 270.5V284.62M414.89 270.5H417.49M414.89 284.62H417.49" stroke="#111" stroke-width="0.5" fill="none"/>
<path d="M421.99 260.18V304.71M420.69 260.18H423.29M420.69 304.71H423.29" stroke="#111" stroke-width="0.5" fill="none"/>
<path d="M427.79 217.29V224.89M426.49 217.29H429.09M426.49 224.89H429.09" stroke="#111" stroke-width="0.5" fill="none"/>
<path d="M433.59 225.43V271.04M432.29 225.43H434.89M432.29 271.04H434.89" stroke="#111" stroke-width="0.5" fill="none"/>
<path d="M257 185.3V322.6M256.6 321H440" stroke="#222" stroke-width="0.8" fill="none"/>
<path d="M254.4 321H257" stroke="#222" stroke-width="0.7"/>
<text x="252.2" y="322.6" class="tl" text-anchor="end">0.0</text>
<path d="M254.4 293.85H257" stroke="#222" stroke-width="0.7"/>
<text x="252.2" y="295.45" class="tl" text-anchor="end">0.5</text>
<path d="M254.4 266.7H257" stroke="#222" stroke-width="0.7"/>
<text x="252.2" y="268.3" class="tl" text-anchor="end">1.0</text>
<path d="M254.4 239.55H257" stroke="#222" stroke-width="0.7"/>
<text x="252.2" y="241.15" class="tl" text-anchor="end">1.5</text>
<path d="M254.4 212.4H257" stroke="#222" stroke-width="0.7"/>
<text x="252.2" y="214" class="tl" text-anchor="end">2.0</text>
<path d="M254.4 185.25H257" stroke="#222" stroke-width="0.7"/>
<text x="252.2" y="186.85" class="tl" text-anchor="end">2.5</text>
<path d="M255.6 307.43H257" stroke="#222" stroke-width="0.6"/>
<path d="M255.6 280.27H257" stroke="#222" stroke-width="0.6"/>
<path d="M255.6 253.12H257" stroke="#222" stroke-width="0.6"/>
<path d="M255.6 225.98H257" stroke="#222" stroke-width="0.6"/>
<path d="M255.6 198.82H257" stroke="#222" stroke-width="0.6"/>
<path d="M293.6 321V323.4" stroke="#222" stroke-width="0.7"/>
<path d="M330.2 321V323.4" stroke="#222" stroke-width="0.7"/>
<path d="M366.8 321V323.4" stroke="#222" stroke-width="0.7"/>
<path d="M403.4 321V323.4" stroke="#222" stroke-width="0.7"/>
<path d="M440 321V323.4" stroke="#222" stroke-width="0.7"/>
<path d="M275.3 321V322.4" stroke="#222" stroke-width="0.6"/>
<text x="275.3" y="330" class="xl" text-anchor="middle">UBA60</text>
<path d="M311.9 321V322.4" stroke="#222" stroke-width="0.6"/>
<text x="311.9" y="330" class="xl" text-anchor="middle">HIS4</text>
<path d="M348.5 321V322.4" stroke="#222" stroke-width="0.6"/>
<text x="348.5" y="330" class="xl" text-anchor="middle">HIS2B + UBC E2</text>
<path d="M385.1 321V322.4" stroke="#222" stroke-width="0.6"/>
<text x="385.1" y="330" class="xl" text-anchor="middle">TUA</text>
<path d="M421.7 321V322.4" stroke="#222" stroke-width="0.6"/>
<text x="421.7" y="330" class="xl" text-anchor="middle">TUB</text>
<text class="yl" text-anchor="middle" transform="translate(242.1 255.5) rotate(-90)">Normalized Expression</text>
<rect x="262" y="189" width="42" height="36" fill="#fff" stroke="#6a6a6a" stroke-width="1"/>
<rect x="262.9" y="190.4" width="12.7" height="4.8" fill="#000000" stroke="#777" stroke-width="0.4"/>
<text x="277.2" y="194.6" class="lg" style="font-size:5.7px">Drought0</text>
<rect x="262.9" y="197.6" width="12.7" height="4.8" fill="#ff0000" stroke="#777" stroke-width="0.4"/>
<text x="277.2" y="201.8" class="lg" style="font-size:5.7px">Drought2</text>
<rect x="262.9" y="204.8" width="12.7" height="4.8" fill="#0000ff" stroke="#777" stroke-width="0.4"/>
<text x="277.2" y="209" class="lg" style="font-size:5.7px">Drought6</text>
<rect x="262.9" y="212" width="12.7" height="4.8" fill="#008080" stroke="#777" stroke-width="0.4"/>
<text x="277.2" y="216.2" class="lg" style="font-size:5.7px">Drought9</text>
<rect x="262.9" y="219.2" width="12.7" height="4.8" fill="#ff00ff" stroke="#777" stroke-width="0.4"/>
<text x="277.2" y="223.4" class="lg" style="font-size:5.7px">Drought12</text>
<text x="446.8" y="192" class="pl">E</text>
<rect x="505.3" y="309.65" width="5.6" height="9.25" fill="#000000" stroke="#111" stroke-width="0.35"/>
<rect x="510.9" y="311.87" width="5.6" height="7.03" fill="#ff0000" stroke="#111" stroke-width="0.35"/>
<rect x="516.5" y="312.61" width="5.6" height="6.29" fill="#0000ff" stroke="#111" stroke-width="0.35"/>
<rect x="522.1" y="307.61" width="5.6" height="11.29" fill="#008080" stroke="#111" stroke-width="0.35"/>
<rect x="527.7" y="306.88" width="5.6" height="12.02" fill="#ff00ff" stroke="#111" stroke-width="0.35"/>
<rect x="540.3" y="309.65" width="5.6" height="9.25" fill="#000000" stroke="#111" stroke-width="0.35"/>
<rect x="545.9" y="315.66" width="5.6" height="3.24" fill="#ff0000" stroke="#111" stroke-width="0.35"/>
<rect x="551.5" y="315.2" width="5.6" height="3.7" fill="#0000ff" stroke="#111" stroke-width="0.35"/>
<rect x="557.1" y="312.42" width="5.6" height="6.48" fill="#008080" stroke="#111" stroke-width="0.35"/>
<rect x="562.7" y="307.61" width="5.6" height="11.29" fill="#ff00ff" stroke="#111" stroke-width="0.35"/>
<rect x="575.3" y="309.65" width="5.6" height="9.25" fill="#000000" stroke="#111" stroke-width="0.35"/>
<rect x="580.9" y="312.42" width="5.6" height="6.48" fill="#ff0000" stroke="#111" stroke-width="0.35"/>
<rect x="586.5" y="316.4" width="5.6" height="2.5" fill="#0000ff" stroke="#111" stroke-width="0.35"/>
<rect x="592.1" y="312.42" width="5.6" height="6.48" fill="#008080" stroke="#111" stroke-width="0.35"/>
<rect x="597.7" y="306.41" width="5.6" height="12.49" fill="#ff00ff" stroke="#111" stroke-width="0.35"/>
<rect x="610.3" y="309.65" width="5.6" height="9.25" fill="#000000" stroke="#111" stroke-width="0.35"/>
<rect x="615.9" y="304.38" width="5.6" height="14.52" fill="#ff0000" stroke="#111" stroke-width="0.35"/>
<rect x="621.5" y="293.65" width="5.6" height="25.25" fill="#0000ff" stroke="#111" stroke-width="0.35"/>
<rect x="627.1" y="310.11" width="5.6" height="8.79" fill="#008080" stroke="#111" stroke-width="0.35"/>
<rect x="632.7" y="312.42" width="5.6" height="6.48" fill="#ff00ff" stroke="#111" stroke-width="0.35"/>
<rect x="645.3" y="309.65" width="5.6" height="9.25" fill="#000000" stroke="#111" stroke-width="0.35"/>
<rect x="650.9" y="292.44" width="5.6" height="26.45" fill="#ff0000" stroke="#111" stroke-width="0.35"/>
<rect x="656.5" y="288.65" width="5.6" height="30.25" fill="#0000ff" stroke="#111" stroke-width="0.35"/>
<rect x="662.1" y="306.41" width="5.6" height="12.49" fill="#008080" stroke="#111" stroke-width="0.35"/>
<rect x="667.7" y="210.12" width="5.6" height="108.78" fill="#ff00ff" stroke="#111" stroke-width="0.35"/>
<path d="M519.3 312.15V313.07M518 312.15H520.6M518 313.07H520.6" stroke="#111" stroke-width="0.5" fill="none"/>
<path d="M524.9 305.58V309.65M523.6 305.58H526.2M523.6 309.65H526.2" stroke="#111" stroke-width="0.5" fill="none"/>
<path d="M530.5 305.02V308.72M529.2 305.02H531.8M529.2 308.72H531.8" stroke="#111" stroke-width="0.5" fill="none"/>
<path d="M548.7 315.38V315.94M547.4 315.38H550M547.4 315.94H550" stroke="#111" stroke-width="0.5" fill="none"/>
<path d="M554.3 314.74V315.66M553 314.74H555.6M553 315.66H555.6" stroke="#111" stroke-width="0.5" fill="none"/>
<path d="M559.9 311.96V312.89M558.6 311.96H561.2M558.6 312.89H561.2" stroke="#111" stroke-width="0.5" fill="none"/>
<path d="M565.5 307.34V307.89M564.2 307.34H566.8M564.2 307.89H566.8" stroke="#111" stroke-width="0.5" fill="none"/>
<path d="M583.7 309.65V315.2M582.4 309.65H585M582.4 315.2H585" stroke="#111" stroke-width="0.5" fill="none"/>
<path d="M589.3 315.94V316.86M588 315.94H590.6M588 316.86H590.6" stroke="#111" stroke-width="0.5" fill="none"/>
<path d="M594.9 310.57V314.27M593.6 310.57H596.2M593.6 314.27H596.2" stroke="#111" stroke-width="0.5" fill="none"/>
<path d="M600.5 303.17V309.65M599.2 303.17H601.8M599.2 309.65H601.8" stroke="#111" stroke-width="0.5" fill="none"/>
<path d="M618.7 299.29V309.46M617.4 299.29H620M617.4 309.46H620" stroke="#111" stroke-width="0.5" fill="none"/>
<path d="M624.3 285.6V301.69M623 285.6H625.6M623 301.69H625.6" stroke="#111" stroke-width="0.5" fill="none"/>
<path d="M629.9 306.41V313.81M628.6 306.41H631.2M628.6 313.81H631.2" stroke="#111" stroke-width="0.5" fill="none"/>
<path d="M635.5 309.65V315.2M634.2 309.65H636.8M634.2 315.2H636.8" stroke="#111" stroke-width="0.5" fill="none"/>
<path d="M653.7 290.59V294.29M652.4 290.59H655M652.4 294.29H655" stroke="#111" stroke-width="0.5" fill="none"/>
<path d="M659.3 285.88V291.43M658 285.88H660.6M658 291.43H660.6" stroke="#111" stroke-width="0.5" fill="none"/>
<path d="M664.9 305.95V306.88M663.6 305.95H666.2M663.6 306.88H666.2" stroke="#111" stroke-width="0.5" fill="none"/>
<path d="M670.5 200.13V220.11M669.2 200.13H671.8M669.2 220.11H671.8" stroke="#111" stroke-width="0.5" fill="none"/>
<path d="M501.6 189.4V320.5M501.2 318.9H676.25" stroke="#222" stroke-width="0.8" fill="none"/>
<path d="M499 318.9H501.6" stroke="#222" stroke-width="0.7"/>
<text x="497" y="320.5" class="tl" text-anchor="end">0</text>
<path d="M499 300.4H501.6" stroke="#222" stroke-width="0.7"/>
<text x="497" y="302" class="tl" text-anchor="end">2</text>
<path d="M499 281.9H501.6" stroke="#222" stroke-width="0.7"/>
<text x="497" y="283.5" class="tl" text-anchor="end">4</text>
<path d="M499 263.4H501.6" stroke="#222" stroke-width="0.7"/>
<text x="497" y="265" class="tl" text-anchor="end">6</text>
<path d="M499 244.9H501.6" stroke="#222" stroke-width="0.7"/>
<text x="497" y="246.5" class="tl" text-anchor="end">8</text>
<path d="M499 226.4H501.6" stroke="#222" stroke-width="0.7"/>
<text x="497" y="228" class="tl" text-anchor="end">10</text>
<path d="M499 207.9H501.6" stroke="#222" stroke-width="0.7"/>
<text x="497" y="209.5" class="tl" text-anchor="end">12</text>
<path d="M499 189.4H501.6" stroke="#222" stroke-width="0.7"/>
<text x="497" y="191" class="tl" text-anchor="end">14</text>
<path d="M500.2 309.65H501.6" stroke="#222" stroke-width="0.6"/>
<path d="M500.2 291.15H501.6" stroke="#222" stroke-width="0.6"/>
<path d="M500.2 272.65H501.6" stroke="#222" stroke-width="0.6"/>
<path d="M500.2 254.15H501.6" stroke="#222" stroke-width="0.6"/>
<path d="M500.2 235.65H501.6" stroke="#222" stroke-width="0.6"/>
<path d="M500.2 217.15H501.6" stroke="#222" stroke-width="0.6"/>
<path d="M500.2 198.65H501.6" stroke="#222" stroke-width="0.6"/>
<path d="M536.53 318.9V321.3" stroke="#222" stroke-width="0.7"/>
<path d="M571.46 318.9V321.3" stroke="#222" stroke-width="0.7"/>
<path d="M606.39 318.9V321.3" stroke="#222" stroke-width="0.7"/>
<path d="M641.32 318.9V321.3" stroke="#222" stroke-width="0.7"/>
<path d="M676.25 318.9V321.3" stroke="#222" stroke-width="0.7"/>
<path d="M519.07 318.9V320.3" stroke="#222" stroke-width="0.6"/>
<text x="519.07" y="327" class="xl" text-anchor="middle">UBA60</text>
<path d="M554 318.9V320.3" stroke="#222" stroke-width="0.6"/>
<text x="554" y="327" class="xl" text-anchor="middle">HIS4</text>
<path d="M588.92 318.9V320.3" stroke="#222" stroke-width="0.6"/>
<text x="588.92" y="327" class="xl" text-anchor="middle">UBC E2 + TUB</text>
<path d="M623.86 318.9V320.3" stroke="#222" stroke-width="0.6"/>
<text x="623.86" y="327" class="xl" text-anchor="middle">TUA</text>
<path d="M658.78 318.9V320.3" stroke="#222" stroke-width="0.6"/>
<text x="658.78" y="327" class="xl" text-anchor="middle">18S rRNA</text>
<text class="yl" text-anchor="middle" transform="translate(487.1 256) rotate(-90)">Normalized Expression</text>
<rect x="505.9" y="192.3" width="38.6" height="33.7" fill="#fff" stroke="#6a6a6a" stroke-width="1"/>
<rect x="506.8" y="193.5" width="12.5" height="4.8" fill="#000000" stroke="#777" stroke-width="0.4"/>
<text x="520.5" y="197.7" class="lg" style="font-size:5.35px">Salinity0</text>
<rect x="506.8" y="200.35" width="12.5" height="4.8" fill="#ff0000" stroke="#777" stroke-width="0.4"/>
<text x="520.5" y="204.55" class="lg" style="font-size:5.35px">Salinity2</text>
<rect x="506.8" y="207.2" width="12.5" height="4.8" fill="#0000ff" stroke="#777" stroke-width="0.4"/>
<text x="520.5" y="211.4" class="lg" style="font-size:5.35px">Salinity6</text>
<rect x="506.8" y="214.05" width="12.5" height="4.8" fill="#008080" stroke="#777" stroke-width="0.4"/>
<text x="520.5" y="218.25" class="lg" style="font-size:5.35px">Salinity9</text>
<rect x="506.8" y="220.9" width="12.5" height="4.8" fill="#ff00ff" stroke="#777" stroke-width="0.4"/>
<text x="520.5" y="225.1" class="lg" style="font-size:5.35px">Salinity12</text>
<text x="677" y="191.9" class="pl" font-weight="bold">F</text>
</svg>
</body></html>
